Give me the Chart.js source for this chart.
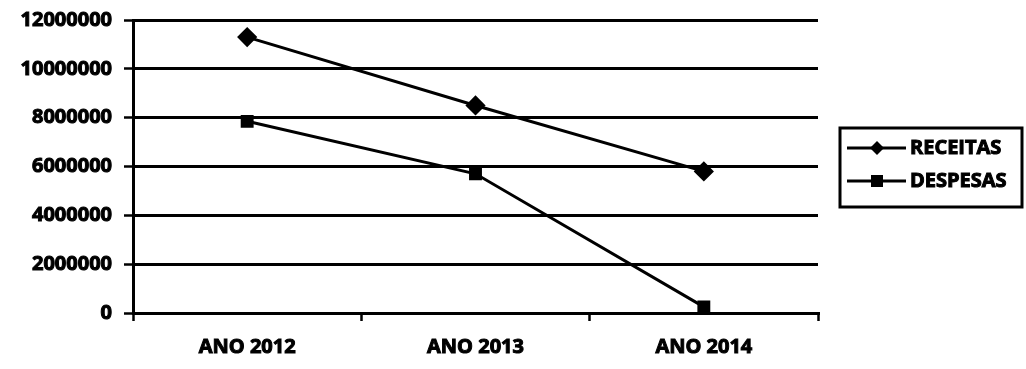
<!DOCTYPE html>
<html>
<head>
<meta charset="utf-8">
<script src="https://cdn.jsdelivr.net/npm/chart.js@4/dist/chart.umd.min.js"></script>
<style>
html,body{margin:0;padding:0;background:#fff;}
#wrap{width:1026px;height:369px;position:relative;}
</style>
</head>
<body>
<div id="wrap"><canvas id="c" width="1026" height="369"></canvas></div>
<script>
const categories = ['ANO 2012', 'ANO 2013', 'ANO 2014'];
const receitas = [11300000, 8500000, 5800000];
const despesas = [7850000, 5700000, 250000];
const seriesNames = ['RECEITAS', 'DESPESAS'];
const yTicks = [0, 2000000, 4000000, 6000000, 8000000, 10000000, 12000000];

const FONT = '"Open Sans", "DejaVu Sans", sans-serif';

const legendBox = {
  id: 'legendBox',
  afterDraw(chart) {
    const ctx = chart.ctx;
    ctx.save();
    const x0 = 840, y0 = 128, w = 182, h = 79;
    ctx.strokeStyle = '#000';
    ctx.lineWidth = 3;
    ctx.strokeRect(x0, y0, w, h);
    const rows = [148, 181];
    chart.data.datasets.forEach((ds, i) => {
      const y = rows[i];
      ctx.beginPath();
      ctx.moveTo(847, y);
      ctx.lineTo(906, y);
      ctx.lineWidth = 3;
      ctx.stroke();
      ctx.fillStyle = '#000';
      const cx = 877, r = 7;
      ctx.beginPath();
      if (ds.pointStyle === 'rectRot') {
        ctx.moveTo(cx, y - r); ctx.lineTo(cx + r, y); ctx.lineTo(cx, y + r); ctx.lineTo(cx - r, y);
      } else {
        ctx.rect(cx - 6, y - 6, 12, 12);
      }
      ctx.closePath();
      ctx.fill();
      ctx.font = 'bold 20px ' + FONT;
      ctx.textBaseline = 'middle';
      ctx.textAlign = 'left';
      ctx.lineWidth = 1;
      ctx.strokeText(ds.label, 910, y);
      ctx.fillText(ds.label, 910, y);
    });
    ctx.restore();
  }
};

new Chart(document.getElementById('c'), {
  type: 'line',
  data: {
    labels: categories,
    datasets: [
      { label: seriesNames[0], data: receitas, borderColor: '#000', backgroundColor: '#000',
        borderWidth: 3, pointStyle: 'rectRot', pointRadius: 8, pointHoverRadius: 8, tension: 0 },
      { label: seriesNames[1], data: despesas, borderColor: '#000', backgroundColor: '#000',
        borderWidth: 3, pointStyle: 'rect', pointRadius: 7, pointHoverRadius: 7, tension: 0 }
    ]
  },
  options: {
    responsive: false,
    animation: false,
    events: [],
    layout: { padding: { left: 0, right: 208, top: 20, bottom: 0 } },
    plugins: { legend: { display: false }, tooltip: { enabled: false } },
    scales: {
      x: {
        offset: true,
        grid: {
          offset: true,
          drawOnChartArea: true,
          color: (c) => c.index === categories.length ? '#000' : 'rgba(0,0,0,0)',
          lineWidth: 3,
          tickColor: '#000',
          tickWidth: 2.5,
          tickLength: 8
        },
        border: { display: true, color: '#000', width: 3 },
        ticks: { color: '#000', font: { family: FONT, weight: 'bold', size: 20 }, padding: 14,
                 textStrokeColor: '#000', textStrokeWidth: 1 },
        afterFit(s) { s.height = 369 - 313; s.paddingLeft = 0; s.paddingRight = 0; }
      },
      y: {
        min: 0, max: 12000000,
        afterBuildTicks(s) { s.ticks = yTicks.map(v => ({ value: v })); },
        grid: { color: '#000', lineWidth: 3, tickLength: 9, tickWidth: 2.5 },
        border: { display: true, color: '#000', width: 3 },
        ticks: { color: '#000', font: { family: FONT, weight: 'bold', size: 20 }, padding: 12,
                 textStrokeColor: '#000', textStrokeWidth: 1,
                 callback: (v) => String(v) },
        afterFit(s) { s.width = 133; s.paddingTop = 0; s.paddingBottom = 0; }
      }
    }
  },
  plugins: [legendBox]
});
</script>
</body>
</html>
